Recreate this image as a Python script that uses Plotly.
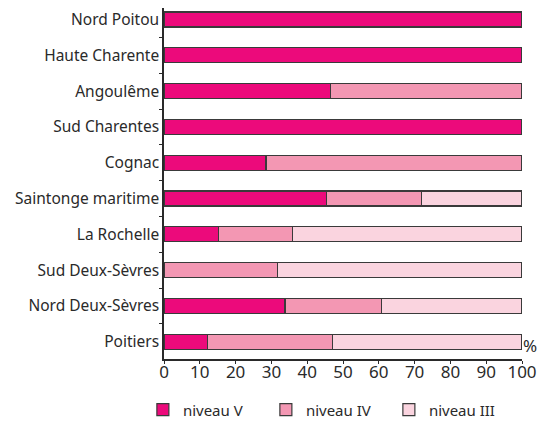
import plotly.graph_objects as go

categories = ["Nord Poitou", "Haute Charente", "Angoulême", "Sud Charentes", "Cognac",
              "Saintonge maritime", "La Rochelle", "Sud Deux-Sèvres", "Nord Deux-Sèvres", "Poitiers"]
niveau_V = [100, 100, 46.4, 100, 28.5, 45.4, 15.3, None, 33.8, 12.1]
niveau_IV = [None, None, 53.6, None, 71.5, 26.6, 20.7, 31.7, 26.9, 35.0]
niveau_III = [None, None, None, None, None, 28.0, 64.0, 68.3, 39.3, 52.9]
series_names = ["niveau V", "niveau IV", "niveau III"]
colors = ["#EC0A7B", "#F397B3", "#FAD4DF"]
x_ticks = [0, 10, 20, 30, 40, 50, 60, 70, 80, 90, 100]

font = "Noto Sans"
fig = go.Figure()
for name, vals, col in zip(series_names, [niveau_V, niveau_IV, niveau_III], colors):
    fig.add_trace(go.Bar(
        y=categories, x=vals, name=name, orientation="h",
        marker=dict(color=col, line=dict(color="#3a3a3a", width=1.2)),
    ))

fig.update_layout(
    barmode="stack",
    bargap=0.58,
    width=543, height=413,
    margin=dict(l=156, r=29, t=0, b=62, autoexpand=False),
    paper_bgcolor="white", plot_bgcolor="white",
    font=dict(family=font, color="#2a2a2a", size=15),
    showlegend=True,
    legend=dict(orientation="h", x=-0.059, y=-0.098, xanchor="left", yanchor="top",
                font=dict(size=15, family=font), traceorder="normal",
                entrywidth=78, entrywidthmode="pixels", tracegroupgap=0),
)
fig.update_xaxes(
    range=[0, 100], tickvals=x_ticks, ticktext=[str(v) for v in x_ticks],
    showgrid=False, zeroline=False, showline=True, linecolor="#2a2a2a", linewidth=1.5,
    ticks="outside", ticklen=3, tickcolor="#2a2a2a", tickwidth=1.2,
    tickfont=dict(size=17, family=font), ticklabelstandoff=-6, automargin=False,
)
fig.update_yaxes(
    range=[9.48, -0.32], categoryorder="array", categoryarray=categories,
    showgrid=False, zeroline=False, showline=True, linecolor="#2a2a2a", linewidth=1.5,
    ticks="outside", ticklen=3, tickcolor="#2a2a2a", tickwidth=1.2, tickson="boundaries",
    tickfont=dict(size=15.5, family=font), automargin=False,
)
fig.add_annotation(text="%", x=1.0, y=0, xref="paper", yref="paper",
                   xanchor="left", yanchor="bottom", xshift=-1, yshift=0,
                   showarrow=False, font=dict(size=17, family=font))
fig.write_html("out.html")
